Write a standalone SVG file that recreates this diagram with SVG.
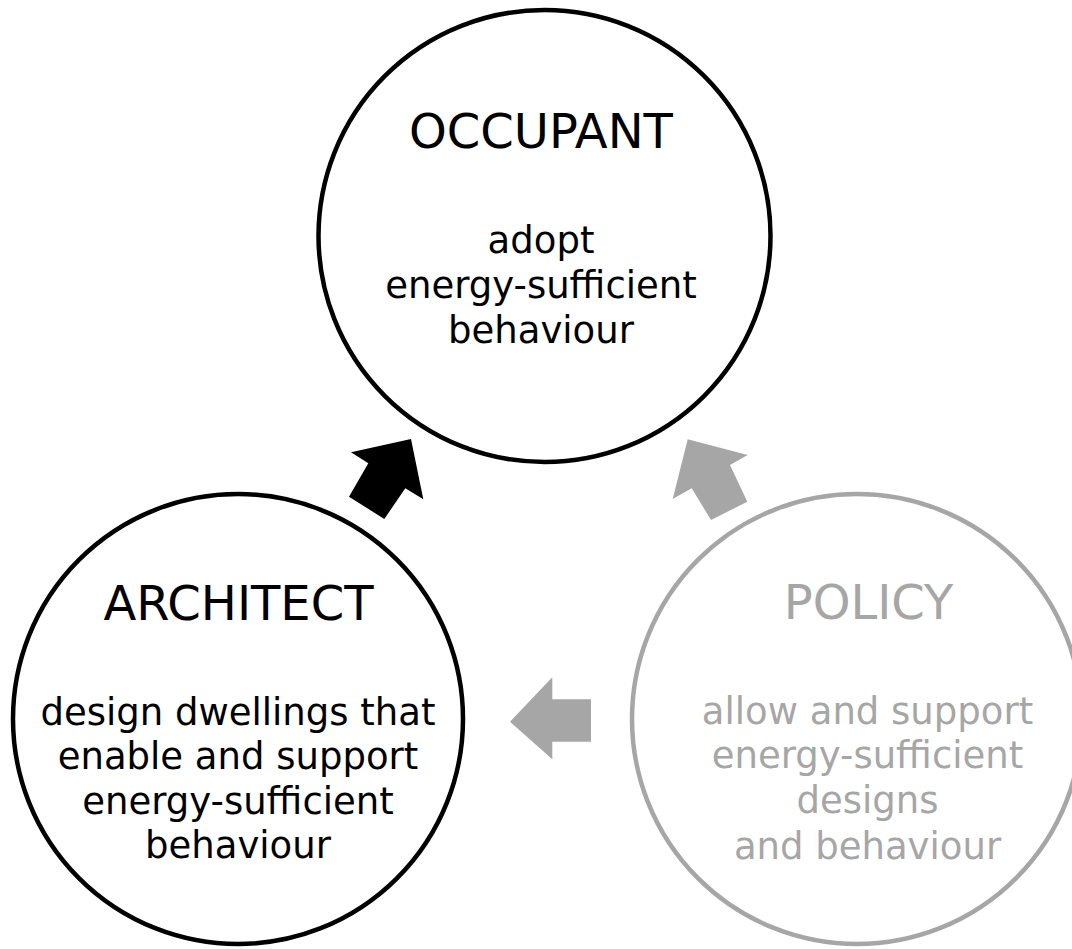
<svg xmlns="http://www.w3.org/2000/svg" width="1072" height="949" viewBox="0 0 1072 949">
<style>
.c{fill:#fff;stroke-width:4.5}
.k{stroke:#000}
.g{stroke:#a6a6a6}
text{font-family:"DejaVu Sans",Verdana,sans-serif;text-anchor:middle}
.t{font-size:48px}
.b{font-size:37px}
.tk{fill:#000}
.tg{fill:#a6a6a6}
</style>
<rect width="1072" height="949" fill="#fff"/>
<g id="connectors">
<polygon fill="#000" points="411,439 423.3,499.3 405.3,488.3 384.3,519 349,496.7 368.3,463.3 351,452.3"/>
<polygon fill="#a6a6a6" points="687.7,439.3 747.7,455 730,465 747.3,501.7 711,520 691.7,488.3 672.7,499"/>
<polygon fill="#a6a6a6" points="510,721.7 552.3,677.3 552.3,699.3 591,699.3 591,741.7 552.3,741.7 552.3,759.3"/>
</g>
<g id="occupant">
<circle class="c k" cx="544.5" cy="236" r="226"/>
<text class="t tk" x="541" y="148">OCCUPANT</text>
<text class="b tk" x="541" y="253">adopt</text>
<text class="b tk" x="541" y="298">energy-sufficient</text>
<text class="b tk" x="541" y="343">behaviour</text>
</g>
<g id="architect">
<circle class="c k" cx="238" cy="719" r="225"/>
<text class="t tk" x="238.5" y="620">ARCHITECT</text>
<text class="b tk" x="238" y="725">design dwellings that</text>
<text class="b tk" x="238" y="769">enable and support</text>
<text class="b tk" x="238" y="814">energy-sufficient</text>
<text class="b tk" x="238" y="858">behaviour</text>
</g>
<g id="policy">
<circle class="c g" cx="857" cy="719" r="225"/>
<text class="t tg" x="868.5" y="619">POLICY</text>
<text class="b tg" x="867.5" y="724">allow and support</text>
<text class="b tg" x="867.5" y="768">energy-sufficient</text>
<text class="b tg" x="867.5" y="813">designs</text>
<text class="b tg" x="867.5" y="859">and behaviour</text>
</g>
</svg>
